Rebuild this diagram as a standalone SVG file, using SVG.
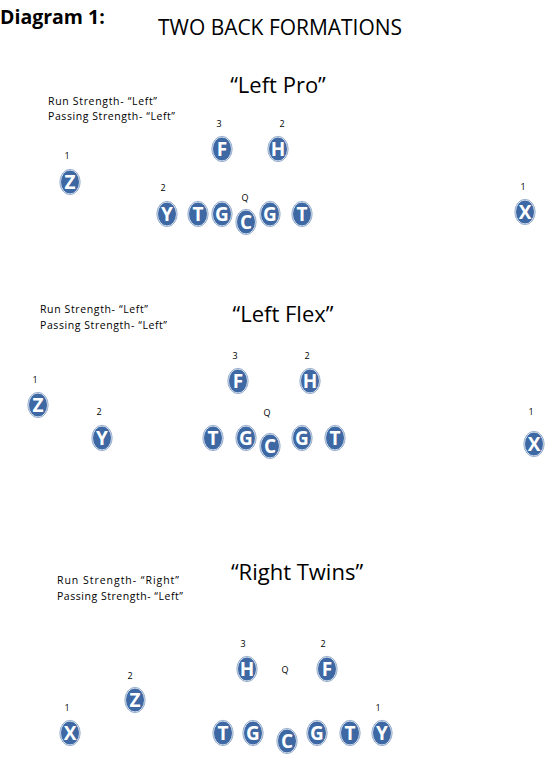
<svg xmlns="http://www.w3.org/2000/svg" width="554" height="760" viewBox="0 0 554 760">
<style>
.bg{fill:#ffffff}
.p{fill:#3d68a3;stroke:#dfe7f2;stroke-width:1}
.o{fill:none;stroke:#5a7fb0;stroke-width:0.6}
.l{font-family:"Open Sans","Liberation Sans",Arial,sans-serif;font-weight:bold;font-size:19px;fill:#ffffff;text-anchor:middle}
.n{font-family:"Open Sans","Liberation Sans",sans-serif;font-size:9px;fill:#000;text-anchor:middle}
.s{font-family:"Open Sans","Liberation Sans",sans-serif;font-size:10.5px;fill:#000}
.h{font-family:"Open Sans","Liberation Sans",sans-serif;font-size:22px;fill:#000;text-anchor:middle}
</style>
<defs>
<g id="pl"><ellipse class="p" cx="0" cy="0" rx="9.5" ry="12"/><ellipse class="o" cx="0" cy="0" rx="10.2" ry="12.7"/></g>
</defs>
<rect class="bg" x="0" y="0" width="554" height="760"/>
<text x="0" y="24" font-family="'Open Sans','Liberation Sans',sans-serif" font-weight="bold" font-size="19.5">Diagram 1:</text>
<text x="280" y="35" font-family="'Open Sans','Liberation Sans',sans-serif" font-size="21" text-anchor="middle" textLength="244" lengthAdjust="spacingAndGlyphs">TWO BACK FORMATIONS</text>

<g id="f1">
<text class="h" x="278" y="93">“Left Pro”</text>
<text class="s" x="48" y="105" textLength="109">Run Strength-  “Left”</text>
<text class="s" x="48" y="120" textLength="127">Passing Strength-  “Left”</text>
<text class="n" x="219" y="127">3</text>
<text class="n" x="282" y="127">2</text>
<text class="n" x="67" y="159">1</text>
<text class="n" x="163" y="191">2</text>
<text class="n" x="245" y="201">Q</text>
<text class="n" x="523" y="190">1</text>
<g id="f1-F"><use href="#pl" x="222" y="149"/><text class="l" x="222" y="156">F</text></g>
<g id="f1-H"><use href="#pl" x="278" y="149"/><text class="l" x="278" y="156">H</text></g>
<g id="f1-Z"><use href="#pl" x="70" y="182"/><text class="l" x="70" y="189">Z</text></g>
<g id="f1-Y"><use href="#pl" x="167" y="214"/><text class="l" x="167" y="221">Y</text></g>
<g id="f1-T1"><use href="#pl" x="198" y="214"/><text class="l" x="198" y="221">T</text></g>
<g id="f1-G1"><use href="#pl" x="222" y="214"/><text class="l" x="222" y="221">G</text></g>
<g id="f1-C"><use href="#pl" x="246" y="222"/><text class="l" x="246" y="229">C</text></g>
<g id="f1-G2"><use href="#pl" x="270" y="214"/><text class="l" x="270" y="221">G</text></g>
<g id="f1-T2"><use href="#pl" x="302" y="214"/><text class="l" x="302" y="221">T</text></g>
<g id="f1-X"><use href="#pl" x="525" y="212"/><text class="l" x="525" y="219">X</text></g>
</g>

<g id="f2">
<text class="h" x="283" y="322">“Left Flex”</text>
<text class="s" x="40" y="313" textLength="108">Run Strength-  “Left”</text>
<text class="s" x="40" y="329" textLength="127">Passing Strength-  “Left”</text>
<text class="n" x="235" y="359">3</text>
<text class="n" x="307" y="359">2</text>
<text class="n" x="35" y="383">1</text>
<text class="n" x="99" y="415">2</text>
<text class="n" x="267" y="416">Q</text>
<text class="n" x="531" y="415">1</text>
<g id="f2-F"><use href="#pl" x="238" y="381"/><text class="l" x="238" y="388">F</text></g>
<g id="f2-H"><use href="#pl" x="310" y="381"/><text class="l" x="310" y="388">H</text></g>
<g id="f2-Z"><use href="#pl" x="38" y="405"/><text class="l" x="38" y="412">Z</text></g>
<g id="f2-Y"><use href="#pl" x="102" y="438"/><text class="l" x="102" y="445">Y</text></g>
<g id="f2-T1"><use href="#pl" x="213" y="438"/><text class="l" x="213" y="445">T</text></g>
<g id="f2-G1"><use href="#pl" x="246" y="438"/><text class="l" x="246" y="445">G</text></g>
<g id="f2-C"><use href="#pl" x="270" y="446"/><text class="l" x="270" y="453">C</text></g>
<g id="f2-G2"><use href="#pl" x="302" y="438"/><text class="l" x="302" y="445">G</text></g>
<g id="f2-T2"><use href="#pl" x="335" y="438"/><text class="l" x="335" y="445">T</text></g>
<g id="f2-X"><use href="#pl" x="534" y="444"/><text class="l" x="534" y="451">X</text></g>
</g>

<g id="f3">
<text class="h" x="297" y="580">“Right Twins”</text>
<text class="s" x="57" y="584" textLength="122">Run Strength-  “Right”</text>
<text class="s" x="57" y="600" textLength="126">Passing Strength-  “Left”</text>
<text class="n" x="243" y="647">3</text>
<text class="n" x="323" y="647">2</text>
<text class="n" x="285" y="673">Q</text>
<text class="n" x="130" y="679">2</text>
<text class="n" x="67" y="711">1</text>
<text class="n" x="378" y="711">1</text>
<g id="f3-H"><use href="#pl" x="247" y="669"/><text class="l" x="247" y="676">H</text></g>
<g id="f3-F"><use href="#pl" x="327" y="669"/><text class="l" x="327" y="676">F</text></g>
<g id="f3-Z"><use href="#pl" x="135" y="700"/><text class="l" x="135" y="707">Z</text></g>
<g id="f3-X"><use href="#pl" x="70" y="733"/><text class="l" x="70" y="740">X</text></g>
<g id="f3-T1"><use href="#pl" x="223" y="733"/><text class="l" x="223" y="740">T</text></g>
<g id="f3-G1"><use href="#pl" x="253" y="733"/><text class="l" x="253" y="740">G</text></g>
<g id="f3-C"><use href="#pl" x="287" y="741"/><text class="l" x="287" y="748">C</text></g>
<g id="f3-G2"><use href="#pl" x="317" y="733"/><text class="l" x="317" y="740">G</text></g>
<g id="f3-T2"><use href="#pl" x="350" y="733"/><text class="l" x="350" y="740">T</text></g>
<g id="f3-Y"><use href="#pl" x="382" y="733"/><text class="l" x="382" y="740">Y</text></g>
</g>
</svg>
